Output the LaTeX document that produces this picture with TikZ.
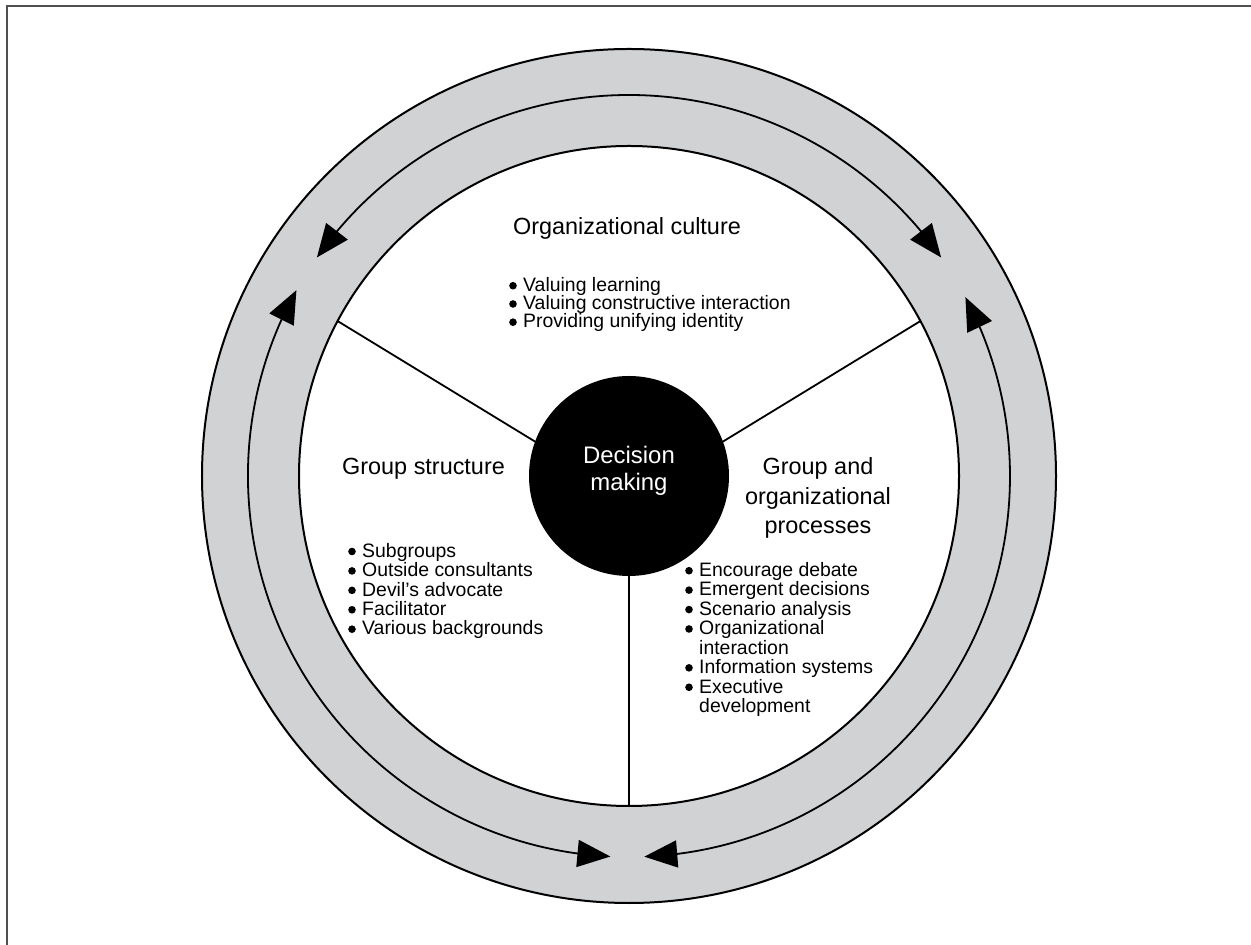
\documentclass[tikz,border=0pt]{standalone}
\usepackage{fontspec}
\setmainfont{Liberation Sans}
\usetikzlibrary{arrows.meta,bending,calc}
\definecolor{ringgray}{RGB}{209,210,212}
\definecolor{framegray}{RGB}{80,80,80}
% round list bullet followed by the gap before the item text
\newcommand{\bul}{\makebox[14bp][l]{\tikz[baseline=0pt]\fill (3.8bp,5.8bp) circle[radius=3.8bp];}}
\newcommand{\bulgap}{\hspace*{14bp}}
\begin{document}
\begin{tikzpicture}[x=1bp,y=1bp,
  ring/.style={circle,draw=black,line width=2bp,inner sep=0pt,outer sep=0pt},
  spoke/.style={line width=1.8bp},
  flow/.style={line width=1.8bp,{Triangle[length=33bp,width=27bp]}-{Triangle[length=33bp,width=27bp]}},
  heading/.style={font=\fontsize{23.5}{30}\selectfont,inner sep=0pt},
  list/.style={font=\fontsize{19.5}{19.5}\selectfont,inner sep=0pt,align=left,anchor=base west},
]
\useasboundingbox (0,0) rectangle (1251,945);
% frame edge
\draw[framegray,line width=2bp] (6.5,0) -- (6.5,939) -- (1251,939);

\coordinate (C) at (629,469);
% grey ring
\node[ring,fill=ringgray,minimum size=854bp] (outer) at (C) {};

% circulating arrows inside the ring
\coordinate (a1) at ($(C)+(145:381)$);
\coordinate (b1) at ($(C)+(150.8:381)$);
\coordinate (c1) at ($(C)+(272.3:381)$);
\draw[flow] (a1) arc[start angle=145, end angle=35, radius=381];
\draw[flow] (b1) arc[start angle=150.8, end angle=267.2, radius=381];
\draw[flow] (c1) arc[start angle=272.3, end angle=388, radius=381];

% white inner disk and centre
\node[ring,fill=white,minimum size=660bp] (inner) at (C) {};
\node[ring,fill=black,minimum size=198bp] (dm) at (C) {};

% spokes
\draw[spoke] (dm.20) -- (inner.28);
\draw[spoke] (dm.160) -- (inner.152);
\draw[spoke] (dm.270) -- (inner.270);

% texts (multi-line nodes are anchored on the baseline of their last line)
\node[heading,text=white,align=center,anchor=base,font=\fontsize{24}{27}\selectfont] (dmtext) at (629,454.5) {Decision\\making};

\node[heading,anchor=base] (oc) at (627,710) {Organizational culture};
\node[list,font=\fontsize{19.5}{18.3}\selectfont] (ocl) at (509,617)
  {\bul Valuing learning\\\bul Valuing constructive interaction\\\bul Providing unifying identity};

\node[heading,anchor=base west] (gs) at (342,470) {Group structure};
\node[list] (gsl) at (348,310)
  {\bul Subgroups\\\bul Outside consultants\\\bul Devil's advocate\\\bul Facilitator\\\bul Various backgrounds};

\node[heading,anchor=base,align=center] (gop) at (818,411) {Group and\\organizational\\processes};
\node[list] (gopl) at (685,232.5)
  {\bul Encourage debate\\\bul Emergent decisions\\\bul Scenario analysis\\\bul Organizational\\\bulgap interaction\\\bul Information systems\\\bul Executive\\\bulgap development};
\end{tikzpicture}
\end{document}
